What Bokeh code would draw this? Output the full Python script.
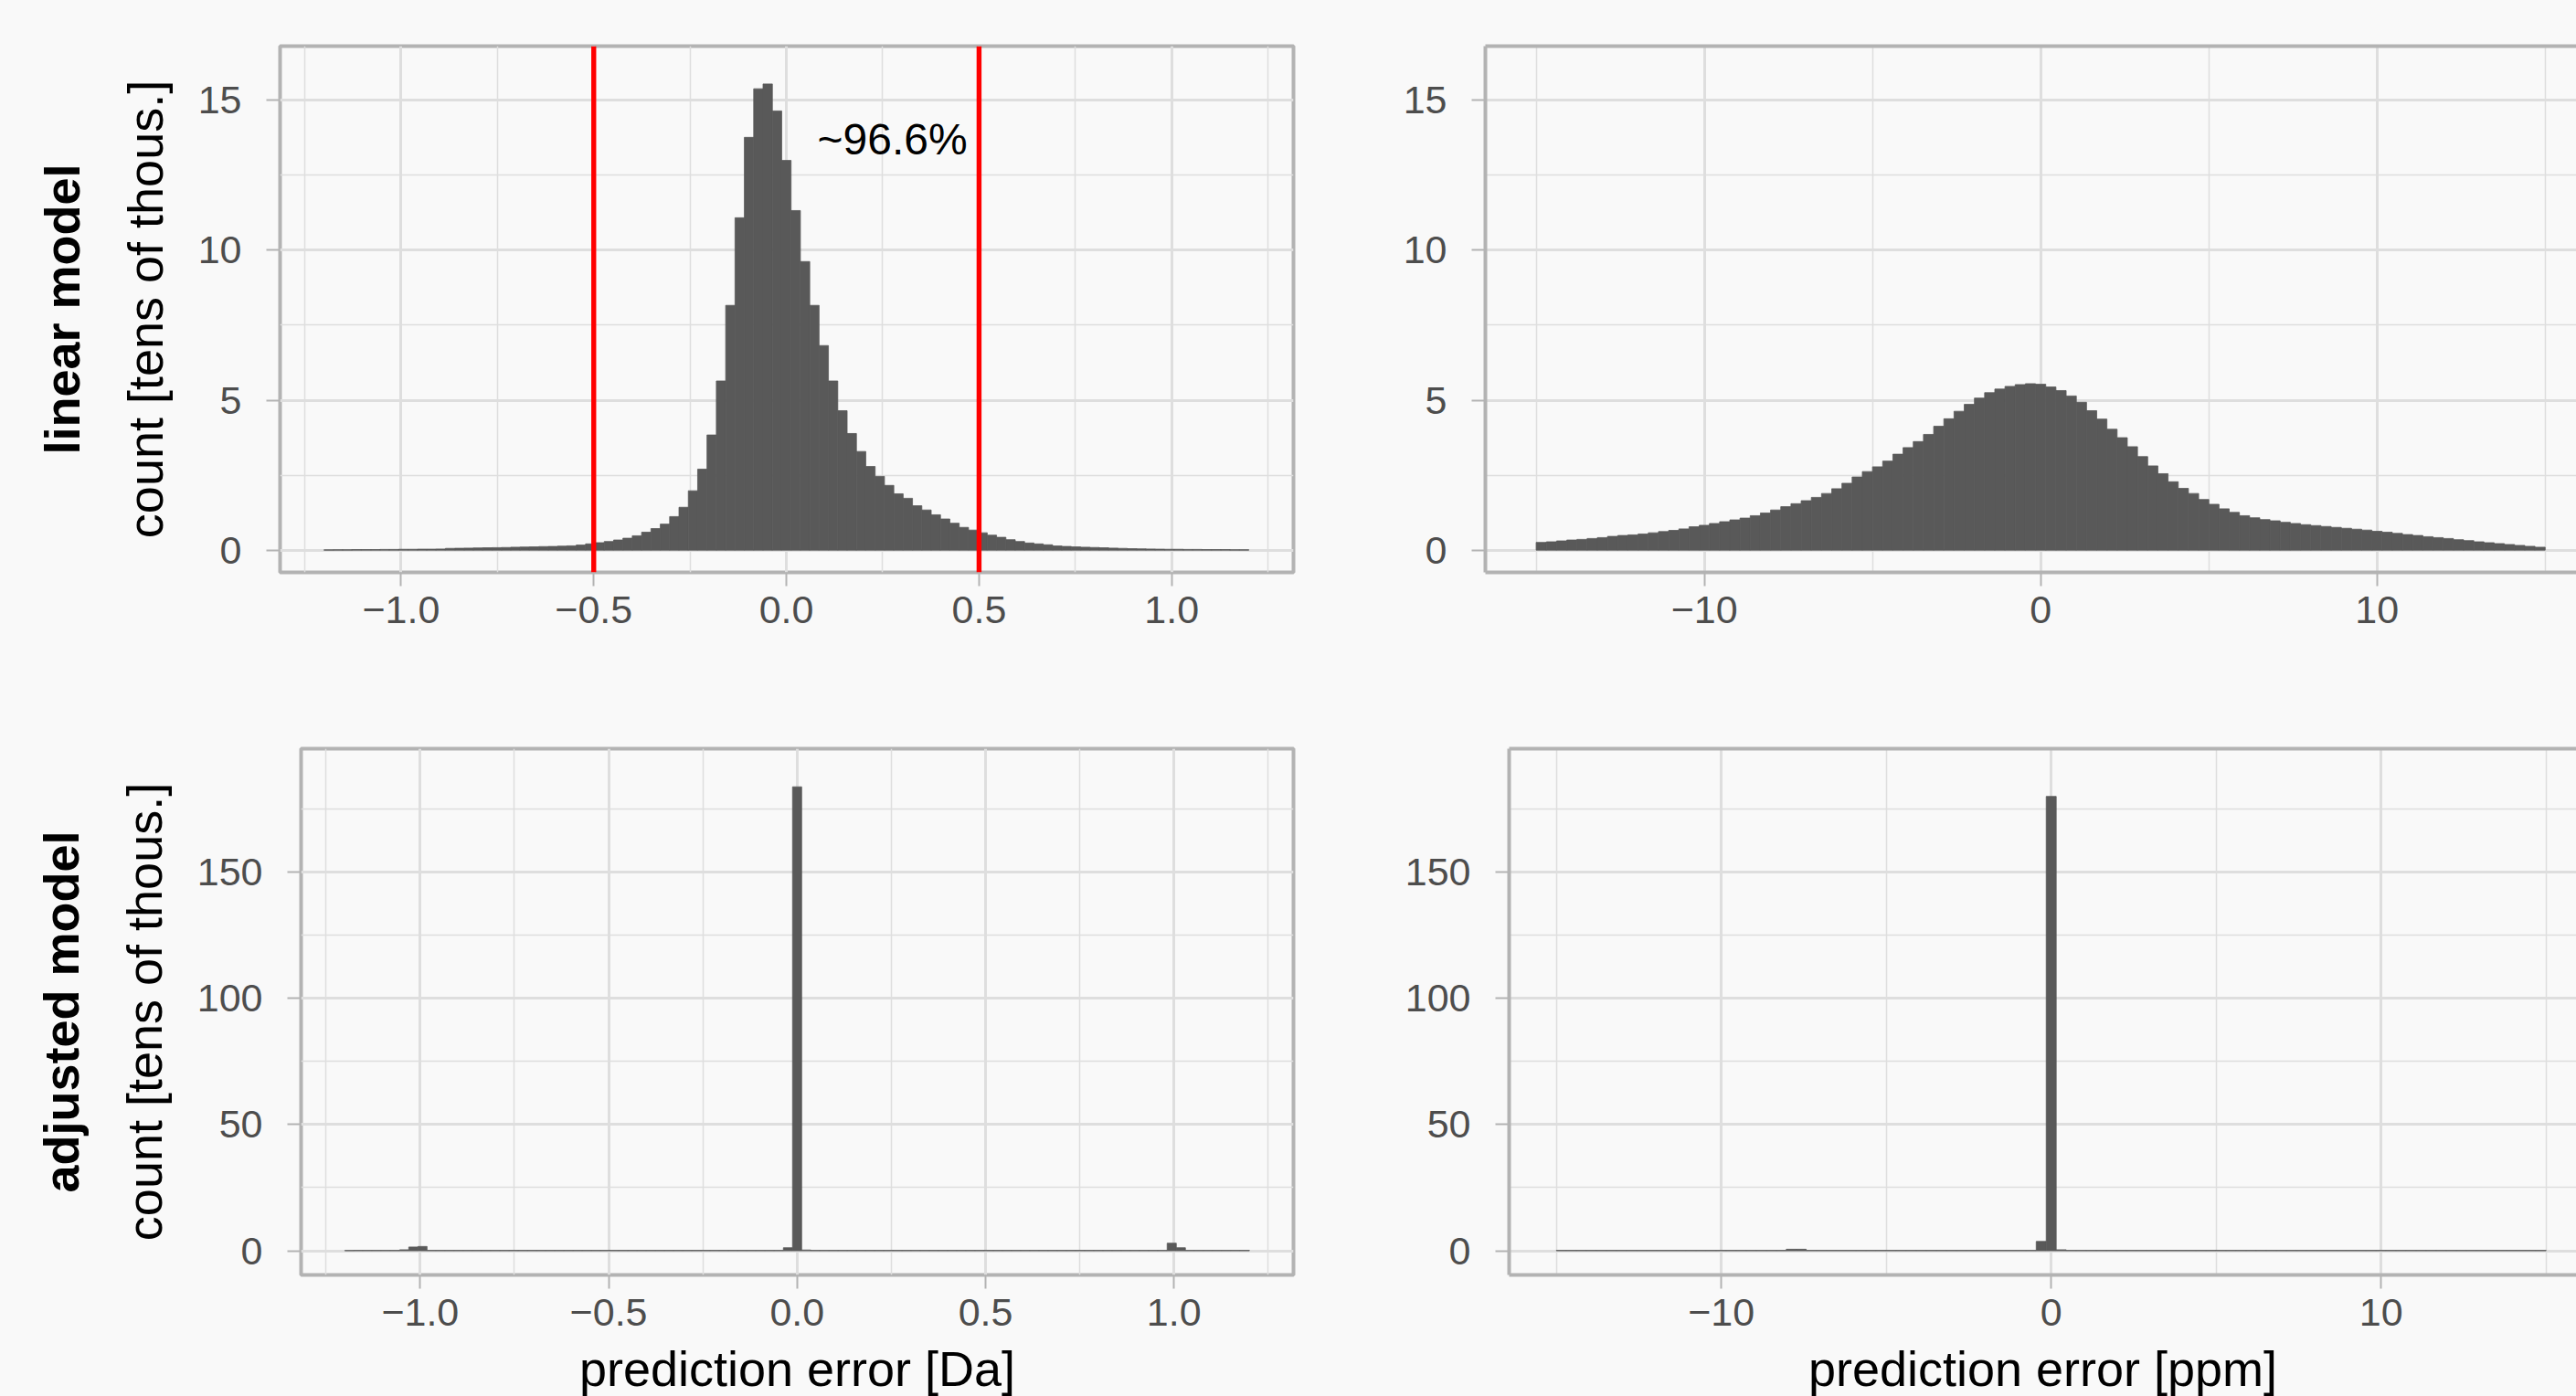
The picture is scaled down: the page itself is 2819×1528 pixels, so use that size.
import numpy as np
from bokeh.plotting import figure
from bokeh.layouts import column, row
from bokeh.models import Range1d, FixedTicker, Span, LinearAxis
from bokeh.core.properties import value
from bokeh.embed import file_html
from bokeh.resources import INLINE

# ---------------- data ----------------
DA_HALF_RANGE = 1.2      # histogram range in Da (99 bins)
PPM_HALF_RANGE = 15.0    # histogram range in ppm (99 bins)

# counts in tens of thousands, linear model, error in Da
linear_da = [0.01, 0.015, 0.015, 0.02, 0.02, 0.02, 0.025, 0.025, 0.03, 0.03, 0.035, 0.035, 0.04,
             0.06, 0.065, 0.07, 0.075, 0.08, 0.085, 0.09, 0.10,
             0.105, 0.11, 0.12, 0.125, 0.135, 0.145, 0.17,
             0.21, 0.25, 0.29, 0.34, 0.40, 0.48, 0.60, 0.72, 0.87, 1.12, 1.43,
             1.98, 2.70, 3.84, 5.64, 8.16, 11.08, 13.76, 15.38, 15.54, 14.64, 12.99, 11.32, 9.62,
             8.16, 6.82, 5.64, 4.65, 3.89, 3.29, 2.79, 2.46, 2.16, 1.88, 1.73, 1.48, 1.34, 1.18,
             1.04, 0.90, 0.76, 0.67, 0.58, 0.50, 0.43, 0.35, 0.29, 0.24, 0.21, 0.18,
             0.14, 0.125, 0.11, 0.10, 0.09, 0.08, 0.07, 0.06, 0.05, 0.045, 0.04, 0.035,
             0.03, 0.03, 0.025, 0.025, 0.02, 0.02, 0.02, 0.015, 0.015]

# counts, linear model, error in ppm
linear_ppm = [0.26, 0.28, 0.31, 0.34, 0.36, 0.39, 0.42, 0.46, 0.49, 0.51,
              0.54, 0.58, 0.62, 0.66, 0.71, 0.78, 0.83, 0.89, 0.95, 1.01,
              1.07, 1.15, 1.24, 1.34, 1.45, 1.55, 1.65, 1.76, 1.89, 2.05,
              2.23, 2.44, 2.62, 2.78, 2.97, 3.20, 3.42, 3.62, 3.86, 4.13,
              4.38, 4.63, 4.86, 5.07, 5.25, 5.37, 5.46, 5.52, 5.55, 5.53,
              5.44, 5.32, 5.14, 4.93, 4.65, 4.37, 4.03, 3.75, 3.45, 3.12,
              2.81, 2.55, 2.28, 2.06, 1.89, 1.69, 1.53, 1.38, 1.26, 1.15,
              1.08, 1.02, 0.98, 0.93, 0.89, 0.85, 0.82, 0.79, 0.76, 0.73,
              0.70, 0.67, 0.63, 0.60, 0.56, 0.52, 0.49, 0.45, 0.42, 0.39,
              0.35, 0.32, 0.28, 0.25, 0.22, 0.19, 0.16, 0.13, 0.10]

# counts, adjusted model, error in Da
adjusted_da = [0.12, 0.15, 0.15, 0.15, 0.15, 0.15, 0.4, 1.5, 1.7, 0.15,
               0.15, 0.15, 0.15, 0.15, 0.15, 0.15, 0.15, 0.15, 0.15, 0.15,
               0.15, 0.15, 0.15, 0.15, 0.15, 0.15, 0.15, 0.15, 0.15, 0.15,
               0.15, 0.15, 0.15, 0.15, 0.15, 0.15, 0.15, 0.15, 0.15, 0.15,
               0.15, 0.15, 0.15, 0.15, 0.15, 0.15, 0.15, 0.15, 1.2, 183.8,
               0.3, 0.15, 0.15, 0.15, 0.15, 0.15, 0.15, 0.15, 0.15, 0.15,
               0.15, 0.15, 0.15, 0.15, 0.15, 0.15, 0.15, 0.15, 0.15, 0.15,
               0.15, 0.15, 0.15, 0.15, 0.15, 0.15, 0.15, 0.15, 0.15, 0.15,
               0.15, 0.15, 0.15, 0.15, 0.15, 0.15, 0.15, 0.15, 0.15, 0.15,
               3.0, 1.2, 0.15, 0.15, 0.15, 0.15, 0.15, 0.15, 0.15]

# counts, adjusted model, error in ppm
adjusted_ppm = [0.15, 0.15, 0.15, 0.15, 0.15, 0.15, 0.15, 0.15, 0.15, 0.15,
                0.15, 0.15, 0.15, 0.15, 0.15, 0.15, 0.15, 0.15, 0.15, 0.15,
                0.15, 0.15, 0.15, 0.6, 0.6, 0.15, 0.15, 0.15, 0.15, 0.15,
                0.15, 0.15, 0.15, 0.15, 0.15, 0.15, 0.15, 0.15, 0.15, 0.15,
                0.15, 0.15, 0.15, 0.15, 0.15, 0.15, 0.15, 0.15, 3.7, 180.0,
                0.4, 0.15, 0.15, 0.15, 0.15, 0.15, 0.15, 0.15, 0.15, 0.15,
                0.15, 0.15, 0.15, 0.15, 0.15, 0.15, 0.15, 0.15, 0.15, 0.15,
                0.15, 0.15, 0.15, 0.15, 0.15, 0.15, 0.15, 0.15, 0.15, 0.15,
                0.15, 0.15, 0.15, 0.15, 0.15, 0.15, 0.15, 0.15, 0.15, 0.15,
                0.15, 0.15, 0.15, 0.15, 0.15, 0.15, 0.15, 0.15, 0.15]

cutoffs_da = [-0.5, 0.5]
annotation_text = "~96.6%"
annotation_pos = (0.275, 13.7)

da_ticks = [-1.0, -0.5, 0.0, 0.5, 1.0]
da_tick_labels = ["\u22121.0", "\u22120.5", "0.0", "0.5", "1.0"]
da_minor = [-1.25, -0.75, -0.25, 0.25, 0.75, 1.25]
ppm_ticks = [-10, 0, 10]
ppm_tick_labels = ["\u221210", "0", "10"]
ppm_minor = [-15, -5, 5, 15]
top_yticks = [0, 5, 10, 15]
top_yminor = [2.5, 7.5, 12.5]
bot_yticks = [0, 50, 100, 150]
bot_yminor = [25, 75, 125, 175]

row_titles = ["linear model", "adjusted model"]
y_title = "count [tens of thous.]"
x_titles = ["prediction error [Da]", "prediction error [ppm]"]

# ---------------- styling ----------------
FONT = "Liberation Sans"
BG = "#F9F9F9"
BAR = "#595959"
GREY70 = "#B3B3B3"
GRID = "#DEDEDE"
TICKTXT = "#4D4D4D"


def make_panel(counts, half_range, xr, yr, xticks, xlabels, xminor, yticks, yminor,
               frame_w, frame_h, mb_left, mb_right, mb_top, mb_bottom,
               right_side, row_title=None, x_title=None):
    p = figure(frame_width=frame_w, frame_height=frame_h,
               min_border_left=mb_left, min_border_right=mb_right,
               min_border_top=mb_top, min_border_bottom=mb_bottom,
               x_range=Range1d(*xr), y_range=Range1d(*yr),
               output_backend="svg", toolbar_location=None)
    p.background_fill_color = BG
    p.border_fill_color = BG

    n = len(counts)
    edges = np.linspace(-half_range, half_range, n + 1)
    p.quad(left=edges[:-1], right=edges[1:], bottom=0, top=counts,
           fill_color=BAR, line_color=BAR, line_width=0.8)

    # axes
    xa = p.xaxis[0]
    ya = p.yaxis[0]
    xa.ticker = FixedTicker(ticks=xticks, minor_ticks=xminor)
    xa.major_label_overrides = {t: l for t, l in zip(xticks, xlabels)}
    ya.ticker = FixedTicker(ticks=yticks, minor_ticks=yminor)
    for ax, standoff in ((xa, 11), (ya, 27)):
        ax.major_label_text_font = FONT
        ax.major_label_text_font_size = "43px"
        ax.major_label_text_color = TICKTXT
        ax.major_label_standoff = standoff
        ax.major_tick_line_color = GREY70
        ax.major_tick_line_width = 2
        ax.major_tick_out = 15
        ax.major_tick_in = 0
        ax.minor_tick_line_color = None
        ax.axis_label_text_font = FONT
        ax.axis_label_text_font_size = "54px"
        ax.axis_label_text_font_style = "normal"
        ax.axis_label_text_color = "black"
    if right_side:
        xa.axis_line_color = GREY70
        xa.axis_line_width = 4
        ya.axis_line_color = GREY70
        ya.axis_line_width = 4
        top = LinearAxis(ticker=FixedTicker(ticks=[]), major_tick_out=0, major_tick_in=0,
                         major_label_standoff=0, axis_line_color=GREY70, axis_line_width=4,
                         minor_tick_line_color=None)
        p.add_layout(top, "above")
        p.outline_line_color = None
    else:
        xa.axis_line_color = None
        ya.axis_line_color = None
        p.outline_line_color = GREY70
        p.outline_line_width = 4

    if row_title is not None:
        ya.axis_label = y_title
        ya.axis_label_standoff = 25
        extra = LinearAxis(ticker=FixedTicker(ticks=[]), major_tick_out=0, major_tick_in=0,
                           major_label_standoff=0, axis_line_color=None,
                           minor_tick_line_color=None, axis_label=row_title,
                           axis_label_text_font=FONT, axis_label_text_font_size="54px",
                           axis_label_text_font_style="bold", axis_label_text_color="black",
                           axis_label_standoff=28)
        p.add_layout(extra, "left")
    if x_title is not None:
        xa.axis_label = x_title
        xa.axis_label_standoff = 14

    # grid
    for g in (p.xgrid[0], p.ygrid[0]):
        g.grid_line_color = GRID
        g.grid_line_width = 3
        g.minor_grid_line_color = GRID
        g.minor_grid_line_width = 1.5
    return p


p1 = make_panel(linear_da, DA_HALF_RANGE, (-1.314, 1.316), (-0.74, 16.8),
                da_ticks, da_tick_labels, da_minor, top_yticks, top_yminor,
                1109, 576, 306, 55, 50, 82, False, row_title=row_titles[0])
for c in cutoffs_da:
    p1.add_layout(Span(location=c, dimension="height", line_color="#FF0000", line_width=5.4))
p1.text(x=[annotation_pos[0]], y=[annotation_pos[1]], text=[annotation_text],
        text_font=value(FONT), text_font_size="48px", text_color="black",
        text_align="center", text_baseline="middle")

p2 = make_panel(linear_ppm, PPM_HALF_RANGE, (-16.51, 15.93), (-0.74, 16.8),
                ppm_ticks, ppm_tick_labels, ppm_minor, top_yticks, top_yminor,
                1194, 576, 155, 0, 50, 82, True)

p3 = make_panel(adjusted_da, DA_HALF_RANGE, (-1.316, 1.317), (-9.58, 198.9),
                da_ticks, da_tick_labels, da_minor, bot_yticks, bot_yminor,
                1086, 576, 329, 55, 111, 133, False, row_title=row_titles[1],
                x_title=x_titles[0])

p4 = make_panel(adjusted_ppm, PPM_HALF_RANGE, (-16.43, 15.92), (-9.58, 198.9),
                ppm_ticks, ppm_tick_labels, ppm_minor, bot_yticks, bot_yminor,
                1168, 576, 181, 0, 111, 133, True, x_title=x_titles[1])

layout = column(row(p1, p2), row(p3, p4))
layout.background = BG

html = file_html(layout, INLINE)
html = html.replace("</head>", "<style>html,body{background:#F9F9F9;}</style></head>")
open("out.html", "w").write(html)
